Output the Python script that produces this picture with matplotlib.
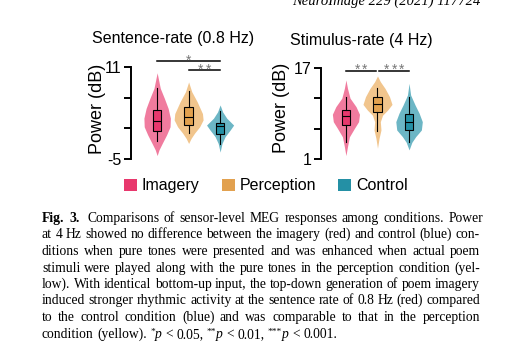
import re
import matplotlib
matplotlib.use("Agg")
import matplotlib.pyplot as plt
from matplotlib.patches import Patch
from matplotlib.transforms import IdentityTransform

plt.rcParams['font.family'] = ['Liberation Sans', 'DejaVu Sans']

W, H = 523, 358

conditions = ["Imagery", "Perception", "Control"]
box_colors = ["#e8386d", "#e2a14f", "#2490a5"]
violin_colors = ["#f07b9e", "#f1c58d", "#6cb6c5"]

# sentence rate (0.8 Hz): box stats
sent_lo = [-1.8, -0.4, -2.4]
sent_q1 = [-0.1, 0.9, -0.65]
sent_med = [1.6, 2.35, 0.8]
sent_q3 = [3.6, 4.1, 1.2]
sent_hi = [7.4, 6.8, 3.35]
# violin outlines (value, half width)
sent_imag_v = [10.0, 7.3, 5.55, 3.8, 2.1, 0.6, -0.8, -2.3, -3.4, -4.4]
sent_imag_w = [0.0, 0.10, 0.23, 0.35, 0.42, 0.41, 0.30, 0.16, 0.06, 0.0]
sent_perc_v = [8.4, 6.7, 4.97, 2.9, 1.8, 0.6, -0.5, -1.4, -2.3]
sent_perc_w = [0.0, 0.10, 0.27, 0.44, 0.46, 0.35, 0.19, 0.08, 0.0]
sent_ctrl_v = [4.4, 3.2, 2.1, 0.9, 0.04, -1.1, -2.3, -3.8]
sent_ctrl_w = [0.0, 0.08, 0.21, 0.43, 0.32, 0.16, 0.06, 0.0]
sent_sig = [(1, 3, 12.0, 1), (2, 3, 10.5, 2)]

# stimulus rate (4 Hz)
stim_lo = [3.94, 5.9, 3.94]
stim_q1 = [6.98, 9.2, 6.1]
stim_med = [8.56, 10.6, 7.56]
stim_q3 = [9.7, 11.85, 8.86]
stim_hi = [11.85, 13.5, 11.85]
stim_imag_v = [14.9, 13.4, 11.7, 10.2, 8.86, 7.56, 6.4, 4.9, 3.2, 1.6]
stim_imag_w = [0.0, 0.05, 0.13, 0.32, 0.43, 0.40, 0.27, 0.11, 0.05, 0.0]
stim_perc_v = [15.6, 14.6, 13.4, 11.96, 10.6, 9.6, 8.7, 7.56, 6.1, 4.65, 2.9]
stim_perc_w = [0.0, 0.09, 0.24, 0.38, 0.46, 0.32, 0.16, 0.09, 0.11, 0.05, 0.0]
stim_ctrl_v = [14.3, 12.25, 10.5, 9.04, 7.56, 6.1, 4.93, 3.94, 2.6]
stim_ctrl_w = [0.0, 0.05, 0.19, 0.32, 0.42, 0.39, 0.21, 0.09, 0.0]
stim_sig = [(1, 1.95, 16.5, 2), (2.05, 3, 16.5, 3)]

caption_lines = [
    "Fig. 3. Comparisons of sensor-level MEG responses among conditions. Power",
    "at 4 Hz showed no difference between the imagery (red) and control (blue) con-",
    "ditions when pure tones were presented and was enhanced when actual poem",
    "stimuli were played along with the pure tones in the perception condition (yel-",
    "low). With identical bottom-up input, the top-down generation of poem imagery",
    "induced stronger rhythmic activity at the sentence rate of 0.8 Hz (red) compared",
    "to the control condition (blue) and was comparable to that in the perception",
    "condition (yellow). *p < 0.05, **p < 0.01, ***p < 0.001.",
]
header = "NeuroImage 229 (2021) 117724"


def draw_panel(ax, ticks, stats, outlines, sig):
    lo, q1, med, q3, hi = stats
    for i, (vals, widths) in enumerate(outlines):
        pos = i + 1
        ax.fill_betweenx(vals, [pos - w for w in widths], [pos + w for w in widths],
                         color=violin_colors[i], lw=0, zorder=1)
    bstats = [dict(whislo=lo[i], q1=q1[i], med=med[i], q3=q3[i], whishi=hi[i])
              for i in range(3)]
    bp = ax.bxp(bstats, positions=[1, 2, 3], widths=0.27, patch_artist=True,
                showfliers=False, showcaps=False,
                boxprops=dict(edgecolor='black', lw=0.8),
                medianprops=dict(color='black', lw=0.8),
                whiskerprops=dict(color='black', lw=0.8))
    for patch, c in zip(bp['boxes'], box_colors):
        patch.set_facecolor(c)
    for x1, x2, y, n in sig:
        ax.plot([x1, x2], [y, y], color='black', lw=1.1, clip_on=False)
        pitch = 0.24
        mid = (x1 + x2) / 2
        for k in range(n):
            ax.text(mid + (k - (n - 1) / 2) * pitch, y - 0.6, "*", ha='center',
                    va='baseline', color='#777777', fontsize=10, clip_on=False)
    ax.set_ylim(ticks[0], ticks[-1])
    ax.set_yticks(ticks)
    ax.set_xticks([])
    for s in ['top', 'right', 'bottom']:
        ax.spines[s].set_visible(False)
    ax.spines['left'].set_linewidth(1.4)
    ax.tick_params(axis='y', length=5, width=1.4, pad=2, labelsize=11.5)
    ax.patch.set_visible(False)


fig = plt.figure(figsize=(W / 100, H / 100), dpi=100)

ax1 = fig.add_axes([131 / W, (H - 159) / H, 108 / W, 92 / H])
ax1.set_xlim(0.17, 3.6)
draw_panel(ax1, [-5, 0.33, 5.67, 11],
           (sent_lo, sent_q1, sent_med, sent_q3, sent_hi),
           [(sent_imag_v, sent_imag_w), (sent_perc_v, sent_perc_w),
            (sent_ctrl_v, sent_ctrl_w)], sent_sig)
ax1.set_yticklabels(['-5', '', '', '11'])

ax2 = fig.add_axes([321 / W, (H - 159) / H, 107 / W, 91 / H])
ax2.set_xlim(0.21, 3.6)
draw_panel(ax2, [1, 6.33, 11.67, 17],
           (stim_lo, stim_q1, stim_med, stim_q3, stim_hi),
           [(stim_imag_v, stim_imag_w), (stim_perc_v, stim_perc_w),
            (stim_ctrl_v, stim_ctrl_w)], stim_sig)
ax2.set_yticklabels(['1', '', '', '17'])

px = IdentityTransform()
fig.text(173, H - 39, "Sentence-rate (0.8 Hz)", transform=px, ha='center',
         va='center', fontsize=11.5)
fig.text(361, H - 40, "Stimulus-rate (4 Hz)", transform=px, ha='center',
         va='center', fontsize=11.5)
fig.text(98, H - 109, "Power (dB)", transform=px, rotation=90, ha='center',
         va='center', fontsize=13)
fig.text(282, H - 108, "Power (dB)", transform=px, rotation=90, ha='center',
         va='center', fontsize=13)

handles = [Patch(facecolor=c, edgecolor='none') for c in box_colors]
fig.legend(handles, conditions, loc='center', bbox_to_anchor=(266 / W, 1 - 186 / H),
           ncol=3, frameon=False, fontsize=11.5, handlelength=0.8, handleheight=0.8,
           handletextpad=0.3, columnspacing=1.4, borderaxespad=0)

cap_font = 'Liberation Serif'

# header (cut at the top edge, as in the page scan)
fig.text(480, H - 5, header, transform=px, ha='right', va='baseline',
         fontsize=10.5, family=cap_font, style='italic')

# caption, justified between x0 and x1
renderer = fig.canvas.get_renderer()
x0, x1 = 42, 480
line_y = [218 + 16.5 * i for i in range(len(caption_lines))]


def parse_word(word, line_no):
    if line_no == 0 and word in ("Fig.", "3."):
        return [(word, 'b')]
    m = re.match(r'^(\*+)p$', word)
    if m:
        return [(m.group(1), 'sup'), ('p', 'i')]
    return [(word, 'n')]


def make_parts(parts, size):
    arts = []
    for s, style in parts:
        kw = dict(fontsize=size, family=cap_font, transform=px, va='baseline', ha='left')
        if style == 'b':
            kw['fontweight'] = 'bold'
        if style == 'i':
            kw['fontstyle'] = 'italic'
        if style == 'sup':
            kw['fontsize'] = size * 0.7
        t = fig.text(0, 0, s, **kw)
        arts.append((t, style, t.get_window_extent(renderer).width))
    return arts


def space_width(size):
    a = fig.text(0, 0, "x x", fontsize=size, family=cap_font, transform=px)
    b = fig.text(0, 0, "xx", fontsize=size, family=cap_font, transform=px)
    w = a.get_window_extent(renderer).width - b.get_window_extent(renderer).width
    a.remove()
    b.remove()
    return w


# pick the size so the longest line fits with normal spaces
base = 10.0
widest = 0
for n, line in enumerate(caption_lines[:-1]):
    words = [make_parts(parse_word(w, n), base) for w in line.split()]
    total = sum(sum(p[2] for p in w) for w in words) + space_width(base) * (len(words) - 1)
    widest = max(widest, total)
    for w in words:
        for t, _, _ in w:
            t.remove()
size = base * (x1 - x0) / widest * 0.995
sp = space_width(size)

for n, line in enumerate(caption_lines):
    words = [make_parts(parse_word(w, n), size) for w in line.split()]
    widths = [sum(p[2] for p in w) for w in words]
    if n < len(caption_lines) - 1:
        gap = (x1 - x0 - sum(widths)) / (len(words) - 1)
    else:
        gap = sp
    x = x0
    y = round(H - line_y[n] - 4)
    for i, (w, wd) in enumerate(zip(words, widths)):
        for t, style, tw in w:
            t.set_position((x, y + (4 if style == 'sup' else 0)))
            x += tw
        x += gap + (sp if (n == 0 and i == 1) else 0)

fig.savefig("out.png", dpi=100)
